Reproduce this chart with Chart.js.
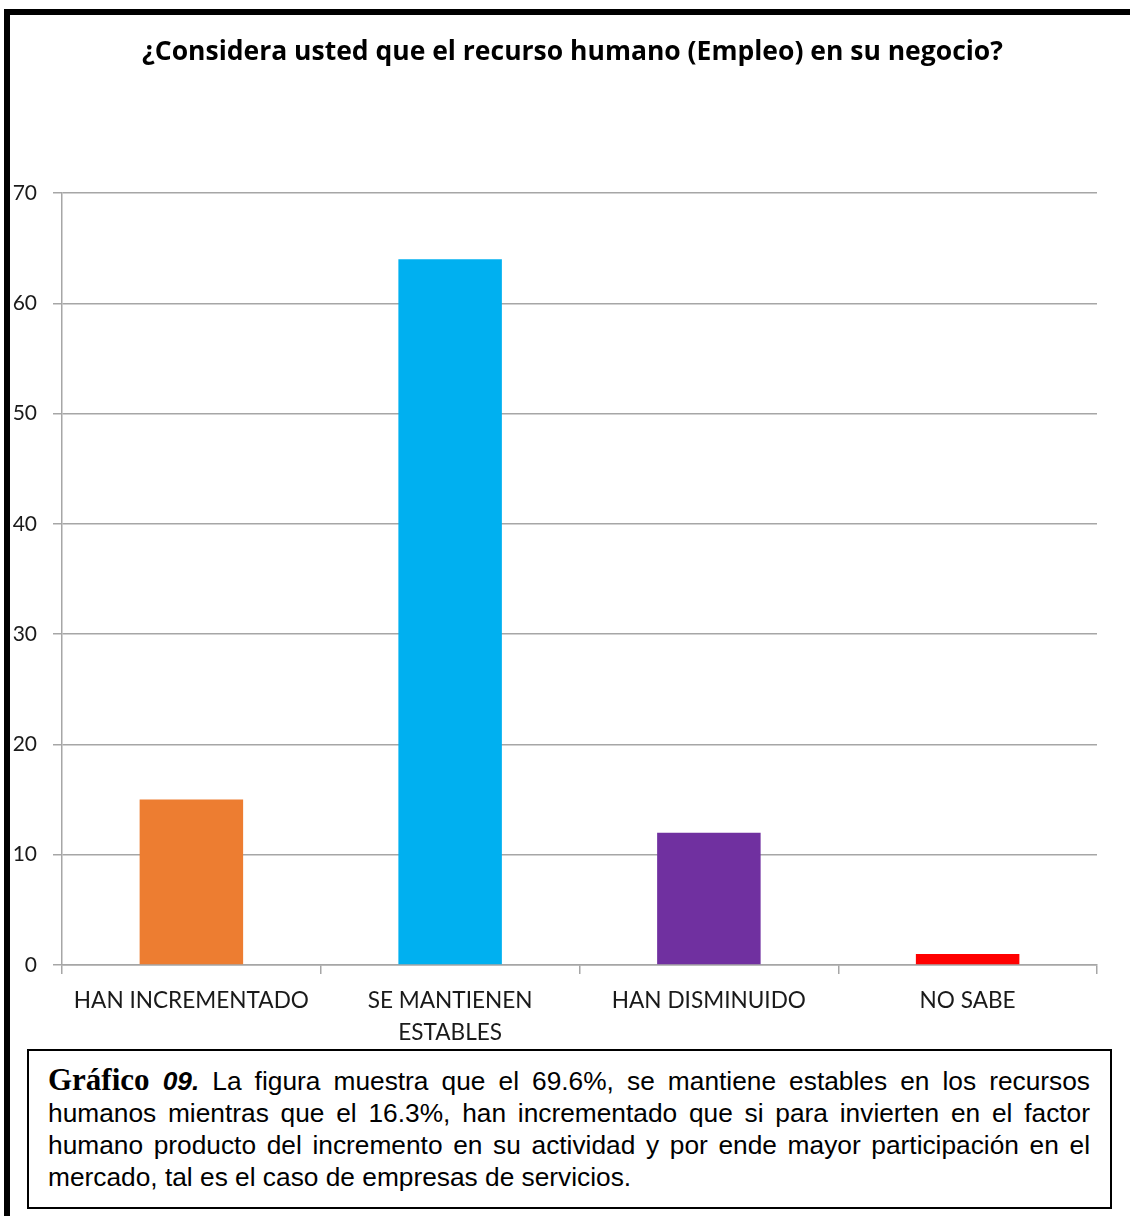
<!DOCTYPE html>
<html>
<head>
<meta charset="utf-8">
<script src="https://cdn.jsdelivr.net/npm/chart.js@4.4.1/dist/chart.umd.min.js"></script>
<style>
  body { margin: 0; background: #fff; width: 1130px; height: 1216px; overflow: hidden; position: relative; }
  .frame { position: absolute; left: 4px; top: 9px; width: 1200px; height: 1300px;
           border-top: 6px solid #000; border-left: 6px solid #000; }
  #wrap { position: absolute; left: 0; top: 0; width: 1130px; height: 1045px; }
  .caption { position: absolute; left: 27px; top: 1049px; width: 1042px; height: 129px;
             border: 2px solid #000; padding: 13px 20px 14px 19px;
             font-family: "Liberation Sans", Arial, sans-serif; font-size: 26.3px; line-height: 32px;
             color: #000; }
  .caption .ln { display: block; text-align: justify; text-align-last: justify; white-space: nowrap; }
  .caption .ln.last { text-align-last: left; }
  .caption .g { font-family: "Liberation Serif", "Times New Roman", serif; font-weight: bold; font-size: 31px; }
  .caption .n { font-weight: bold; font-style: italic; }
</style>
</head>
<body>
<div class="frame"></div>
<div id="wrap"><canvas id="chart"></canvas></div>
<div class="caption">
  <span class="ln"><span class="g">Gráfico</span> <span class="n">09.</span> La figura muestra que el 69.6%, se mantiene estables en los recursos</span>
  <span class="ln">humanos mientras que el 16.3%, han incrementado que si para invierten en el factor</span>
  <span class="ln">humano producto del incremento en su actividad y por ende mayor participación en el</span>
  <span class="ln last">mercado, tal es el caso de empresas de servicios.</span>
</div>

<script>
  // respuestas de la encuesta
  const categories = ["HAN INCREMENTADO", ["SE MANTIENEN", "ESTABLES"], "HAN DISMINUIDO", "NO SABE"];
  const counts = [15, 64, 12, 1];
  const barColors = ["#ED7D31", "#00B0F0", "#7030A0", "#FF0000"];

  const yTicks = [0, 10, 20, 30, 40, 50, 60, 70];
  const titleText = "¿Considera usted que el recurso humano (Empleo) en su negocio?";

  const gridColor = "#a6a6a6";

  // título centrado sobre el área del gráfico
  const chartTitle = {
    id: "chartTitle",
    afterDraw(chart) {
      const { ctx, chartArea } = chart;
      ctx.save();
      ctx.font = "bold 26.5px 'Open Sans', sans-serif";
      ctx.fillStyle = "#000";
      ctx.textAlign = "center";
      ctx.textBaseline = "middle";
      ctx.fillText(titleText, (chartArea.left + chartArea.right) / 2 - 7, 52);
      ctx.restore();
    }
  };

  new Chart(document.getElementById("chart"), {
    type: "bar",
    data: {
      labels: categories,
      datasets: [{
        data: counts,
        backgroundColor: barColors,
        barPercentage: 0.4,
        categoryPercentage: 1.0
      }]
    },
    plugins: [chartTitle],
    options: {
      responsive: true,
      maintainAspectRatio: false,
      animation: false,
      layout: { padding: { left: 0, right: 33, top: 193, bottom: 0 } },
      plugins: {
        legend: { display: false },
        tooltip: { enabled: false },
        title: { display: false }
      },
      scales: {
        x: {
          grid: { drawOnChartArea: false, drawTicks: true, tickLength: 9, color: gridColor, lineWidth: 1.5 },
          border: { color: gridColor, width: 1.5 },
          ticks: {
            color: "#1a1a1a",
            font: { family: "Lato, 'Open Sans', sans-serif", size: 22.6, lineHeight: 1.42 },
            padding: 11, maxRotation: 0, autoSkip: false
          },
          afterFit: (scale) => { scale.height = 80; }
        },
        y: {
          min: 0,
          max: 70,
          afterBuildTicks: (scale) => { scale.ticks = yTicks.map(v => ({ value: v })); },
          grid: { color: gridColor, lineWidth: 1.5, tickLength: 9 },
          border: { color: gridColor, width: 1.5 },
          ticks: { color: "#1a1a1a", font: { family: "Lato, 'Open Sans', sans-serif", size: 21 }, padding: 16 },
          afterFit: (scale) => { scale.width = 62; }
        }
      }
    }
  });
</script>
</body>
</html>
